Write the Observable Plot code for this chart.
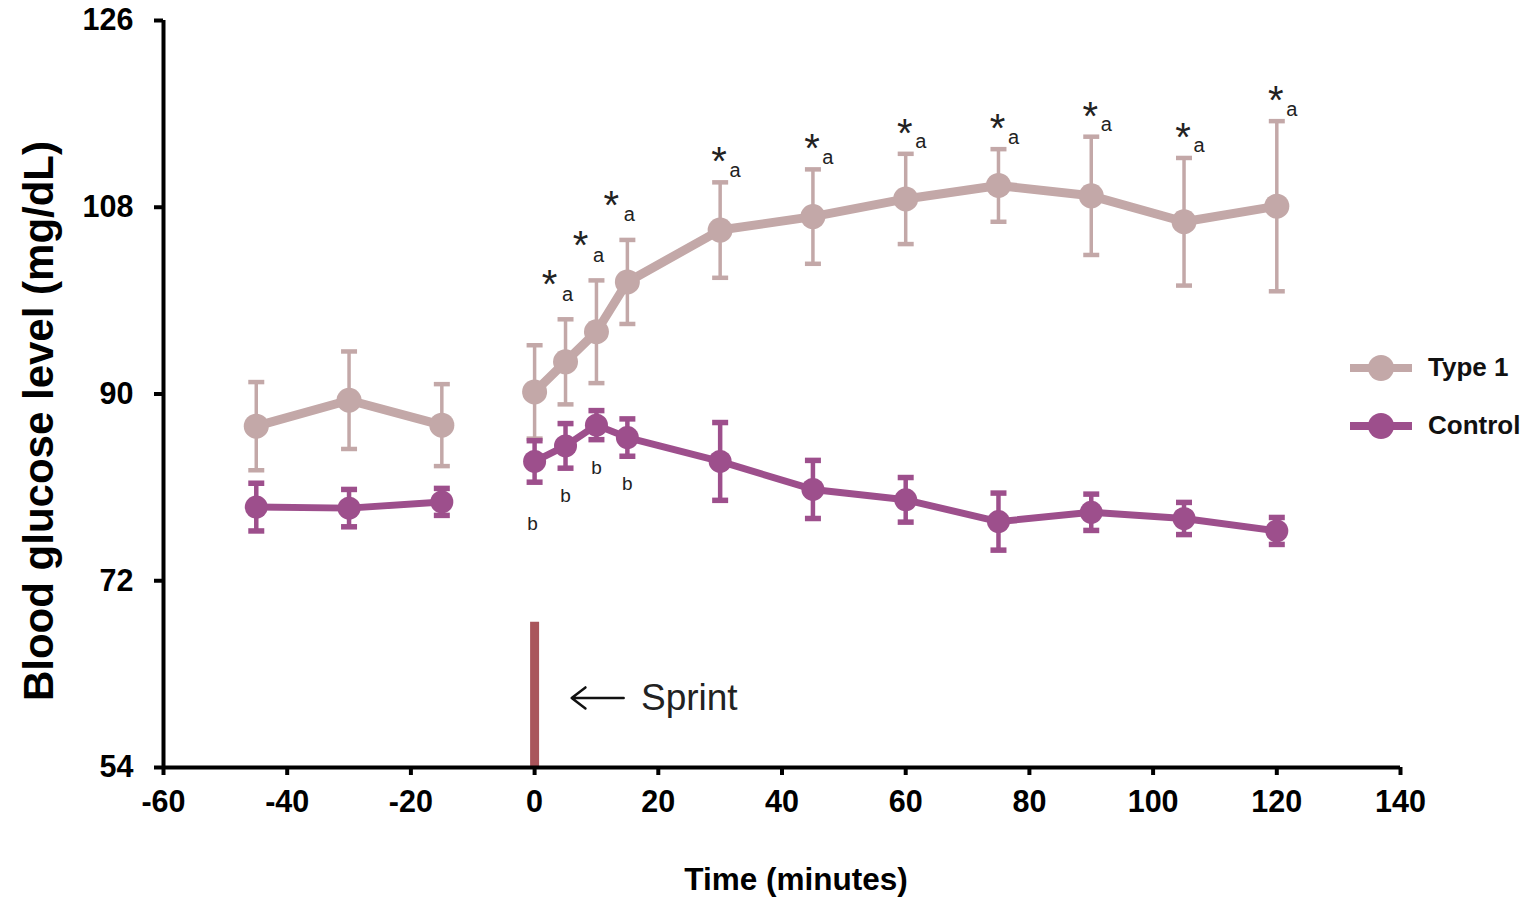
<!DOCTYPE html>
<html><head><meta charset="utf-8">
<script src="https://cdn.jsdelivr.net/npm/d3@7"></script>
<script src="https://cdn.jsdelivr.net/npm/@observablehq/plot@0.6"></script>
<style>
body{margin:0;background:#fff;font-family:"Liberation Sans",Arial,sans-serif;}
#wrap{position:relative;width:1529px;height:897px;}
.leg{position:absolute;left:1348px;display:flex;align-items:center;font-weight:bold;font-size:26px;color:#111;}
.leg svg{margin-right:14px;}
</style></head><body><div id="wrap"></div>
<script>
// ---- data ----
const times    = [-45, -30, -15, 0, 5, 10, 15, 30, 45, 60, 75, 90, 105, 120];
const type1    = [86.9, 89.4, 87.0, 90.2, 93.1, 96.0, 100.8, 105.8, 107.1, 108.8, 110.1, 109.1, 106.6, 108.1];
const type1Err = [4.25, 4.7, 3.95, 4.5, 4.1, 4.95, 4.05, 4.6, 4.55, 4.35, 3.5, 5.7, 6.15, 8.2];
const control    = [79.1, 79.0, 79.6, 83.5, 85.0, 87.0, 85.8, 83.5, 80.8, 79.8, 77.7, 78.6, 78.0, 76.8];
const controlErr = [2.3, 1.8, 1.3, 2.0, 2.15, 1.4, 1.8, 3.75, 2.8, 2.15, 2.75, 1.75, 1.55, 1.3];
const starTimesEarly = [5, 10, 15];
const starTimesLate  = [30, 45, 60, 75, 90, 105, 120];
const bTimes = [5, 10, 15];
const bTimeFirst = [0];
const xTicks = [-60, -40, -20, 0, 20, 40, 60, 80, 100, 120, 140];
const yTicks = [54, 72, 90, 108, 126];
const sprint = {x: 0, y1: 54, y2: 68, arrowFrom: 14.4, arrowTo: 6, arrowY: 60.7, labelX: 17.2};
const seriesNames = ["Type 1", "Control"];
const colors = {"Type 1": "#c3a8a8", "Control": "#9d4f8c"};

// ---- build tables ----
const rows = [];
times.forEach((t, i) => {
  rows.push({series: "Type 1", t, v: type1[i], lo: type1[i] - type1Err[i], hi: type1[i] + type1Err[i], phase: t < 0 ? "pre" : "post"});
  rows.push({series: "Control", t, v: control[i], lo: control[i] - controlErr[i], hi: control[i] + controlErr[i], phase: t < 0 ? "pre" : "post"});
});
const T1 = rows.filter(d => d.series === "Type 1");
const C = rows.filter(d => d.series === "Control");
const capSymbol = {draw(ctx, size) { const r = Math.sqrt(size / Math.PI); ctx.moveTo(-r, 0); ctx.lineTo(r, 0); }};

function seriesMarks(data, color, lw, r, ew, capR) {
  return [
    Plot.ruleX(data, {x: "t", y1: "lo", y2: "hi", stroke: color, strokeWidth: ew}),
    Plot.dot(data, {x: "t", y: "hi", symbol: capSymbol, r: capR, stroke: color, strokeWidth: ew + 1, fill: "none"}),
    Plot.dot(data, {x: "t", y: "lo", symbol: capSymbol, r: capR, stroke: color, strokeWidth: ew + 1, fill: "none"}),
    Plot.line(data, {x: "t", y: "v", z: "phase", stroke: color, strokeWidth: lw, curve: "linear"}),
    Plot.dot(data, {x: "t", y: "v", r, fill: color, stroke: "none"})
  ];
}
const hiOf = t => T1.find(d => d.t === t).hi;
const loOf = t => C.find(d => d.t === t).lo;

const chart = Plot.plot({
  width: 1529, height: 897,
  marginTop: 20, marginBottom: 130, marginLeft: 163, marginRight: 129,
  style: {fontFamily: "Liberation Sans, Arial, sans-serif", background: "white", color: "black"},
  x: {domain: [-60, 140]},
  y: {domain: [54, 126]},
  marks: [
    Plot.ruleX([sprint.x], {y1: sprint.y1, y2: sprint.y2, stroke: "#a9555b", strokeWidth: 9}),
    Plot.arrow([sprint], {x1: "arrowFrom", x2: "arrowTo", y1: "arrowY", y2: "arrowY", stroke: "#111", strokeWidth: 2.5, headLength: 16, headAngle: 75}),
    Plot.text([sprint], {x: "labelX", y: "arrowY", text: () => "Sprint", textAnchor: "start", fontSize: 37, fill: "#222"}),
    ...seriesMarks(T1, colors["Type 1"], 9, 12.5, 3.5, 8),
    ...seriesMarks(C, colors["Control"], 7, 11.5, 4.5, 8),
    Plot.text(starTimesEarly, {x: d => d, y: hiOf, text: () => "*", fontSize: 40, dx: -16, dy: -34, fill: "#222"}),
    Plot.text(starTimesEarly, {x: d => d, y: hiOf, text: () => "a", fontSize: 20, dx: 2, dy: -25, fill: "#222"}),
    Plot.text(starTimesLate, {x: d => d, y: hiOf, text: () => "*", fontSize: 40, dx: -1, dy: -20, fill: "#222"}),
    Plot.text(starTimesLate, {x: d => d, y: hiOf, text: () => "a", fontSize: 20, dx: 15, dy: -12, fill: "#222"}),
    Plot.text(bTimes, {x: d => d, y: loOf, text: () => "b", fontSize: 19, dy: 28, fill: "#222"}),
    Plot.text(bTimeFirst, {x: d => d, y: loOf, text: () => "b", fontSize: 19, dx: -2, dy: 42, fill: "#222"}),
    Plot.axisY({ticks: yTicks, tickSize: 9, tickPadding: 21, strokeWidth: 4, fontSize: 30.5, fontWeight: "bold", label: null}),
    Plot.axisX({ticks: xTicks, tickSize: 8, tickPadding: 15, strokeWidth: 4, fontSize: 30.5, fontWeight: "bold", label: null, tickFormat: d => String(d)}),
    Plot.ruleX([-60], {strokeWidth: 4, stroke: "black"}),
    Plot.ruleY([54], {strokeWidth: 4, stroke: "black"}),
    Plot.text(["Blood glucose level (mg/dL)"], {frameAnchor: "left", textAnchor: "middle", rotate: -90, dx: -124, dy: 27, fontSize: 42, fontWeight: "bold", fill: "black"}),
    Plot.text(["Time (minutes)"], {frameAnchor: "bottom", dx: 14, dy: 122, fontSize: 31.5, fontWeight: "bold", fill: "black"})
  ]
});
const wrap = document.getElementById("wrap");
wrap.appendChild(chart);

// legend
const legTops = {"Type 1": 352, "Control": 410};
seriesNames.forEach(name => {
  const div = document.createElement("div");
  div.className = "leg";
  div.style.top = legTops[name] + "px";
  const c = colors[name];
  div.innerHTML = `<svg width="66" height="30"><line x1="2" x2="64" y1="15" y2="15" stroke="${c}" stroke-width="8"/><circle cx="33" cy="15" r="13" fill="${c}"/></svg><span>${name}</span>`;
  wrap.appendChild(div);
});
</script>
</body></html>
